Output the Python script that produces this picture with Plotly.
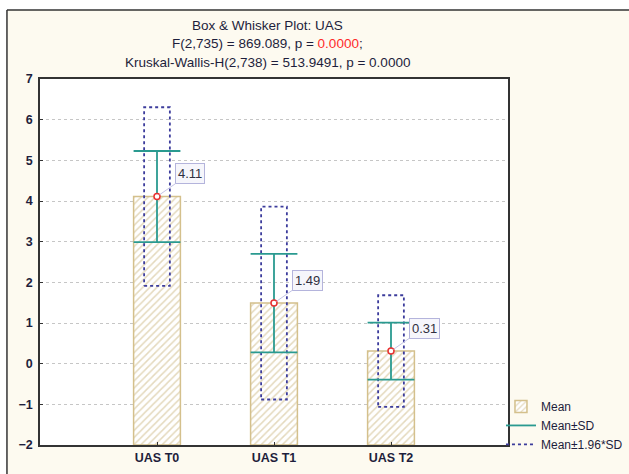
import plotly.graph_objects as go

# Group statistics for UAS at three time points
categories = ["UAS T0", "UAS T1", "UAS T2"]
means = [4.11, 1.49, 0.31]
sds = [1.12, 1.21, 0.70]

y_ticks = [-2, -1, 0, 1, 2, 3, 4, 5, 6, 7]
title_lines = [
    "Box &amp; Whisker Plot: UAS",
    "F(2,735) = 869.089, p = <span style='color:#ff2a2a'>0.0000</span>;",
    "Kruskal-Wallis-H(2,738) = 513.9491, p = 0.0000",
]

FONT = "Arial, Liberation Sans, sans-serif"
TEXT = "#1e1e3c"
BAR_BASE = -2
BAR_W = 0.4
BOX_HALF = 0.11
CAP_HALF = 0.2
Z = 1.96

xs = list(range(1, len(categories) + 1))

fig = go.Figure()

# Hatched bars rising from the axis floor to each mean
fig.add_trace(go.Bar(
    x=xs, y=[m - BAR_BASE for m in means], base=BAR_BASE, width=BAR_W,
    name="Mean", showlegend=True, legendrank=1,
    marker=dict(color="white", line=dict(color="#d4c08c", width=1.5),
                pattern=dict(shape="/", fgcolor="#c9b47c", bgcolor="white",
                             size=5, solidity=0.3)),
    hoverinfo="skip",
))

# Mean ± 1.96*SD dotted boxes
bx, by = [], []
for x, m, s in zip(xs, means, sds):
    lo, hi = m - Z * s, m + Z * s
    bx += [x - BOX_HALF, x + BOX_HALF, x + BOX_HALF, x - BOX_HALF, x - BOX_HALF, None]
    by += [lo, lo, hi, hi, lo, None]
fig.add_trace(go.Scatter(
    x=bx, y=by, mode="lines", name="Mean±1.96*SD", legendrank=3,
    line=dict(color="#3c3c9c", width=1.8, dash="dot"), hoverinfo="skip",
))

# Mean ± SD whiskers with caps
wx, wy = [], []
for x, m, s in zip(xs, means, sds):
    lo, hi = m - s, m + s
    wx += [x, x, None, x - CAP_HALF, x + CAP_HALF, None, x - CAP_HALF, x + CAP_HALF, None]
    wy += [lo, hi, None, hi, hi, None, lo, lo, None]
fig.add_trace(go.Scatter(
    x=wx, y=wy, mode="lines", name="Mean±SD", legendrank=2,
    line=dict(color="#2a9a90", width=1.8), hoverinfo="skip",
))

# Mean points
fig.add_trace(go.Scatter(
    x=xs, y=means, mode="markers", name="Mean", showlegend=False,
    marker=dict(symbol="circle", size=6, color="white",
                line=dict(color="#e83030", width=1.5)),
    hoverinfo="skip",
))

# Value labels for the means
for x, m in zip(xs, means):
    fig.add_annotation(
        x=x, y=m, text=f"{m:.2f}", showarrow=True, arrowhead=0,
        arrowwidth=1, arrowcolor="#c4c4e6", ax=33, ay=-23, standoff=3,
        bgcolor="#f6f6fb", bordercolor="#b4b4dc", borderwidth=1, borderpad=2,
        font=dict(family=FONT, size=13, color="#303040"),
    )

# Three-line heading
for line, py in zip(title_lines, [1.1475, 1.098, 1.0464]):
    fig.add_annotation(
        xref="paper", yref="paper", x=0.486, y=py, text=line, showarrow=False,
        xanchor="center", yanchor="middle",
        font=dict(family=FONT, size=13.5, color=TEXT),
    )

# White margin strips and the outer frame of the panel
fig.add_shape(type="rect", xref="paper", yref="paper", x0=-0.2, x1=1.4,
              y0=1.1885, y1=1.3, fillcolor="white", line_width=0, layer="below")
fig.add_shape(type="rect", xref="paper", yref="paper", x0=-0.2, x1=-0.0706,
              y0=-0.2, y1=1.3, fillcolor="white", line_width=0, layer="below")
fig.add_shape(type="line", xref="paper", yref="paper", x0=-0.0706, x1=1.4,
              y0=1.1885, y1=1.1885, line=dict(color="#333333", width=1.5))
fig.add_shape(type="line", xref="paper", yref="paper", x0=-0.0706, x1=-0.0706,
              y0=-0.2, y1=1.1885, line=dict(color="#333333", width=1.5))

fig.update_layout(
    width=629, height=474,
    margin=dict(l=40, r=121, t=79, b=29, autoexpand=False),
    paper_bgcolor="#fdfaf0", plot_bgcolor="white",
    font=dict(family=FONT, size=12, color=TEXT),
    barmode="overlay",
    legend=dict(x=0.985, y=0.145, xanchor="left", yanchor="top",
                bgcolor="rgba(0,0,0,0)", borderwidth=0, tracegroupgap=0,
                itemwidth=30, traceorder="normal",
                font=dict(family=FONT, size=12, color=TEXT)),
    showlegend=True,
)
fig.update_xaxes(
    range=[0, 4], tickvals=xs, ticktext=categories, showgrid=False,
    zeroline=False, showline=True, mirror=True, linecolor="#333333",
    linewidth=1.5, ticks="inside", ticklen=3, tickcolor="#333333",
    tickfont=dict(family=FONT, size=12.5, color=TEXT, weight="bold"),
)
fig.update_yaxes(
    range=[-2, 7], tickvals=y_ticks, showgrid=True, gridcolor="#c6c6c6",
    griddash="dot", gridwidth=1, zeroline=False, showline=True, mirror=True,
    linecolor="#333333", linewidth=1.5, ticks="inside", ticklen=3,
    tickcolor="#333333", ticklabelstandoff=3,
    tickfont=dict(family=FONT, size=12.5, color=TEXT, weight="bold"),
)

fig.write_html("out.html")
